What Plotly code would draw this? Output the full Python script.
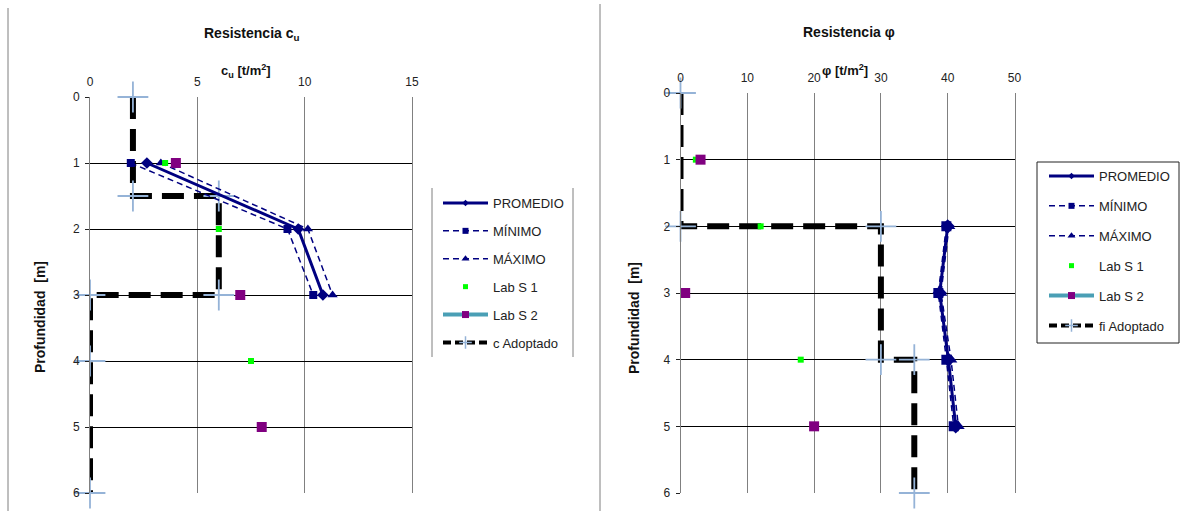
import plotly.graph_objects as go

# ---- Resistencia cu : undrained shear strength vs depth ----
prof_cu = [1, 2, 3]
cu_promedio = [2.65, 9.7, 10.85]
cu_minimo = [1.9, 9.2, 10.4]
cu_maximo = [3.3, 10.15, 11.3]
lab1_cu_prof = [1, 2, 4]
lab1_cu = [3.5, 6.0, 7.5]
lab2_cu_prof = [1, 3, 5]
lab2_cu = [4.0, 7.0, 8.0]
cu_adopt_prof = [0, 1.5, 1.5, 3, 3, 4, 6]
cu_adopt = [2, 2, 6, 6, 0, 0, 0]

# ---- Resistencia phi : friction angle vs depth ----
prof_phi = [2, 3, 4, 5]
phi_promedio = [40.0, 38.8, 40.1, 41.2]
phi_minimo = [39.8, 38.6, 39.8, 40.9]
phi_maximo = [40.2, 39.0, 40.5, 41.6]
lab1_phi_prof = [1, 2, 4]
lab1_phi = [2.3, 12.0, 18.0]
lab2_phi_prof = [1, 3, 5]
lab2_phi = [3.0, 0.7, 20.0]
phi_adopt_prof = [0, 2, 2, 4, 4, 6]
phi_adopt = [0, 0, 30, 30, 35, 35]

cu_ticks = [0, 5, 10, 15]
phi_ticks = [0, 10, 20, 30, 40, 50]
depth_ticks = [0, 1, 2, 3, 4, 5, 6]

NAVY = "#000080"
GREEN = "#00FF00"
PURPLE = "#800080"
TEAL = "#4A9FB5"
CROSS = "#95B3D7"
GRID_V = "#808080"
FONT = "Liberation Sans, Arial, sans-serif"

W, H = 1192, 511


def px_x(p):
    return p / W


def px_y(p):
    return 1 - p / H


fig = go.Figure()

STYLE = {
    "PROMEDIO": dict(line=dict(color=NAVY, width=3), symbol="diamond", color=NAVY),
    "MÍNIMO": dict(line=dict(color=NAVY, width=1.5, dash="6px,4px"), symbol="square", color=NAVY),
    "MÁXIMO": dict(line=dict(color=NAVY, width=1.5, dash="6px,4px"), symbol="triangle-up", color=NAVY),
}


def add_panel(xa, ya, legend, prom, mn, mx, prof, l1, l1p, l2, l2p, ad, adp, ad_name, big):
    msz = 11 if big else 9
    # adopted design profile, drawn first so the measured data sit on top
    fig.add_trace(go.Scatter(
        x=ad, y=adp, mode="lines+markers", showlegend=False, name=ad_name,
        line=dict(color="black", width=6, dash="22px,10px"),
        marker=dict(symbol="cross-thin", size=22, line=dict(color=CROSS, width=1.8)),
        cliponaxis=False, xaxis=xa, yaxis=ya))
    for name, vals, size in (("MÍNIMO", mn, msz - 1), ("MÁXIMO", mx, msz),
                             ("PROMEDIO", prom, msz)):
        st = STYLE[name]
        fig.add_trace(go.Scatter(
            x=vals, y=prof, mode="lines+markers", showlegend=False, name=name,
            line=st["line"], marker=dict(symbol=st["symbol"], size=size, color=st["color"]),
            xaxis=xa, yaxis=ya))
    fig.add_trace(go.Scatter(
        x=l1, y=l1p, mode="markers", showlegend=False, name="Lab S 1",
        marker=dict(symbol="square", size=6, color=GREEN),
        cliponaxis=False, xaxis=xa, yaxis=ya))
    fig.add_trace(go.Scatter(
        x=l2, y=l2p, mode="markers", showlegend=False, name="Lab S 2",
        marker=dict(symbol="square", size=10, color=PURPLE),
        cliponaxis=False, xaxis=xa, yaxis=ya))

    # legend entries with the small key symbols
    keys = [
        ("PROMEDIO", "lines+markers", STYLE["PROMEDIO"]["line"],
         dict(symbol="diamond", size=5, color=NAVY)),
        ("MÍNIMO", "lines+markers", STYLE["MÍNIMO"]["line"],
         dict(symbol="square", size=6, color=NAVY)),
        ("MÁXIMO", "lines+markers", STYLE["MÁXIMO"]["line"],
         dict(symbol="triangle-up", size=7, color=NAVY)),
        ("Lab S 1", "markers", None, dict(symbol="square", size=5, color=GREEN)),
        ("Lab S 2", "lines+markers", dict(color=TEAL, width=4),
         dict(symbol="square", size=7, color=PURPLE)),
        (ad_name, "lines+markers", dict(color="black", width=4, dash="8px,4px"),
         dict(symbol="cross-thin", size=9, line=dict(color=CROSS, width=1.5))),
    ]
    for name, mode, line, marker in keys:
        kw = dict(line=line) if line else {}
        fig.add_trace(go.Scatter(
            x=[None], y=[None], name=name, mode=mode, marker=marker,
            xaxis=xa, yaxis=ya, legend=legend, legendgroup=name + legend,
            hoverinfo="skip", **kw))


add_panel("x", "y", "legend", cu_promedio, cu_minimo, cu_maximo, prof_cu,
          lab1_cu, lab1_cu_prof, lab2_cu, lab2_cu_prof,
          cu_adopt, cu_adopt_prof, "c Adoptado", False)
add_panel("x2", "y2", "legend2", phi_promedio, phi_minimo, phi_maximo, prof_phi,
          lab1_phi, lab1_phi_prof, lab2_phi, lab2_phi_prof,
          phi_adopt, phi_adopt_prof, "fi Adoptado", True)

tickfont = dict(family=FONT, size=12, color="#222")


def xaxis(dom, anchor, rng, ticks):
    return dict(domain=dom, anchor=anchor, side="top", range=rng, tickvals=ticks,
                showgrid=True, gridcolor=GRID_V, gridwidth=1, zeroline=False,
                showline=False, ticks="", ticklabelstandoff=8,
                tickfont=tickfont, fixedrange=True, automargin=False)


def yaxis(dom, anchor):
    return dict(domain=dom, anchor=anchor, range=[6, 0], tickvals=depth_ticks,
                showgrid=True, gridcolor="black", gridwidth=1, zeroline=False,
                showline=True, linecolor=GRID_V, linewidth=1, mirror=True,
                ticks="outside", ticklen=4, tickcolor="#222", ticklabelstandoff=3,
                tickfont=tickfont, fixedrange=True, automargin=False)


legend_common = dict(font=dict(family=FONT, size=13, color="#222"),
                     bgcolor="rgba(0,0,0,0)", xanchor="left", yanchor="top")

fig.update_layout(
    width=W, height=H,
    margin=dict(l=0, r=0, t=0, b=0, pad=0, autoexpand=False),
    paper_bgcolor="white", plot_bgcolor="white",
    xaxis=xaxis([px_x(90), px_x(412)], "y", [0, 15], cu_ticks),
    yaxis=yaxis([px_y(493), px_y(97)], "x"),
    xaxis2=xaxis([px_x(680.5), px_x(1014.5)], "y2", [0, 50], phi_ticks),
    yaxis2=yaxis([px_y(493), px_y(93)], "x2"),
    legend=dict(x=px_x(438), y=px_y(188), tracegroupgap=8, itemwidth=45,
                **legend_common),
    legend2=dict(x=px_x(1044), y=px_y(161), tracegroupgap=10, itemwidth=45,
                 **legend_common),
    showlegend=True,
)

ann_font = dict(family=FONT, size=14, color="#111")
annotations = [
    dict(text="<b>Resistencia c<sub>u</sub></b>", x=px_x(252), y=px_y(34)),
    dict(text="<b>Resistencia φ</b>", x=px_x(849), y=px_y(32)),
    dict(text="<b>c<sub>u</sub> [t/m<sup>2</sup>]</b>", x=px_x(246), y=px_y(71),
         font=dict(family=FONT, size=13, color="#111")),
    dict(text="<b>φ [t/m<sup>2</sup>]</b>", x=px_x(845), y=px_y(70),
         font=dict(family=FONT, size=13, color="#111")),
    dict(text="<b>Profundidad  [m]</b>", x=px_x(40), y=px_y(317), textangle=-90),
    dict(text="<b>Profundidad  [m]</b>", x=px_x(634), y=px_y(318), textangle=-90),
]
for a in annotations:
    a.setdefault("font", ann_font)
    fig.add_annotation(xref="paper", yref="paper", showarrow=False,
                       xanchor="center", yanchor="middle", **a)

# chart frames and legend borders
line_grey = dict(color="#7f7f7f", width=1)
shapes = [
    dict(x0=px_x(8), x1=px_x(8), y0=0, y1=px_y(8)),
    dict(x0=px_x(600), x1=px_x(600), y0=0, y1=px_y(4)),
    dict(x0=px_x(432), x1=px_x(432), y0=px_y(357), y1=px_y(188)),
    dict(x0=px_x(573), x1=px_x(573), y0=px_y(357), y1=px_y(188)),
]
for s in shapes:
    fig.add_shape(type="line", xref="paper", yref="paper", line=line_grey, **s)
fig.add_shape(type="rect", xref="paper", yref="paper",
              x0=px_x(1037), x1=px_x(1179), y0=px_y(343), y1=px_y(162),
              line=dict(color="#222", width=1))

fig.write_html("out.html")
